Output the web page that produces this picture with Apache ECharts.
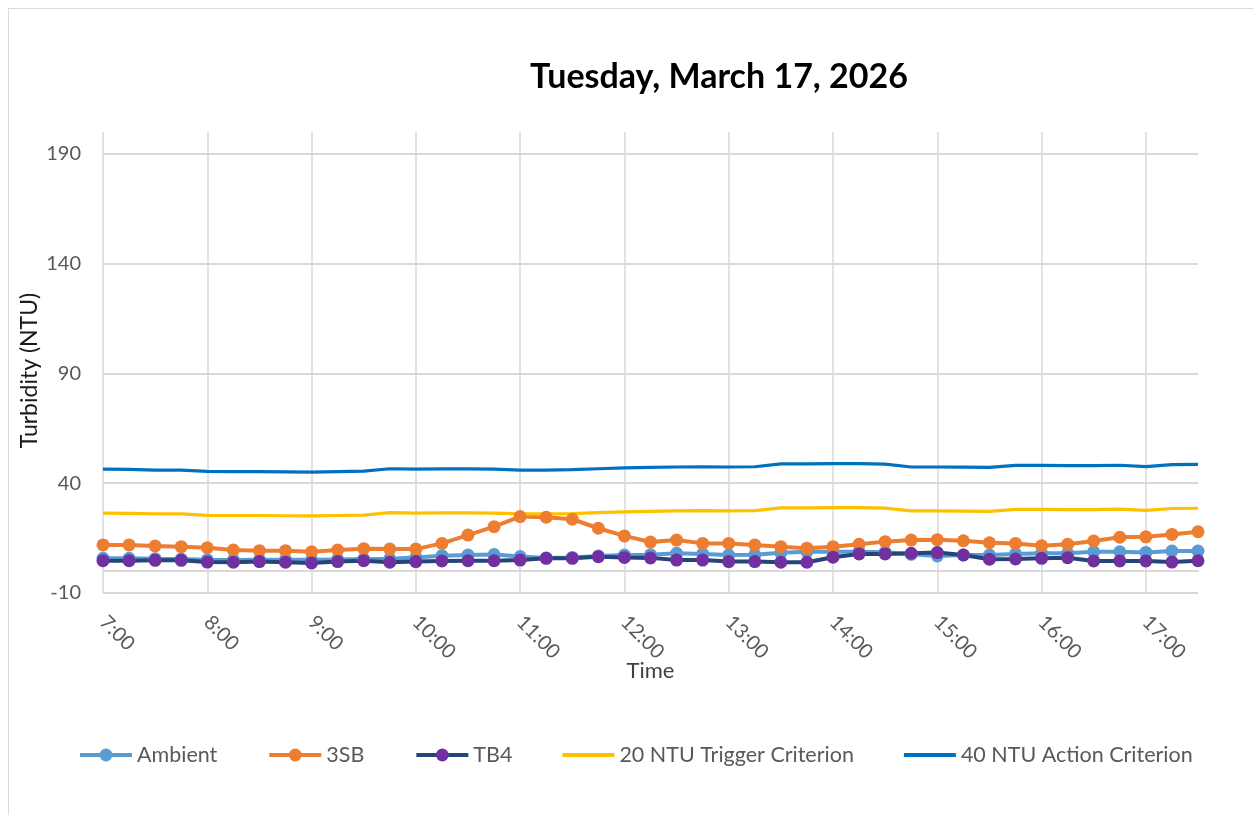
<!DOCTYPE html>
<html>
<head>
<meta charset="utf-8">
<script src="https://cdn.jsdelivr.net/npm/echarts@6/dist/echarts.min.js"></script>
<style>
html,body{margin:0;padding:0;background:#fff;}
#frame{position:absolute;left:8px;top:8px;width:1300px;height:900px;border-left:1px solid #d9d9d9;border-top:1px solid #d9d9d9;}
#chart{position:absolute;left:0;top:0;width:1253px;height:815px;}
</style>
</head>
<body>
<div id="frame"></div>
<div id="chart"></div>
<script>
const times = ['7:00','7:15','7:30','7:45','8:00','8:15','8:30','8:45','9:00','9:15','9:30','9:45',
  '10:00','10:15','10:30','10:45','11:00','11:15','11:30','11:45','12:00','12:15','12:30','12:45',
  '13:00','13:15','13:30','13:45','14:00','14:15','14:30','14:45','15:00','15:15','15:30','15:45',
  '16:00','16:15','16:30','16:45','17:00','17:15','17:30'];

const ambient = [5.8,5.8,5.6,5.5,5.1,5.0,5.1,5.2,5.1,5.3,5.5,5.6,6.2,7.0,7.3,7.5,6.6,6.0,6.2,6.9,7.3,7.4,8.1,7.8,
  7.3,7.4,8.3,8.8,8.8,8.8,8.6,7.6,6.9,7.3,7.3,7.8,8.1,8.1,8.8,8.8,8.5,9.1,9.1];
const sb3 = [11.9,11.9,11.4,11.1,10.6,9.6,9.3,9.3,8.8,9.6,10.2,10.0,10.0,12.6,16.4,20.2,24.8,24.5,23.6,19.5,16.0,13.2,14.1,12.6,
  12.6,11.9,11.1,10.4,11.1,12.2,13.4,14.1,14.3,13.8,12.9,12.6,11.5,12.2,13.7,15.4,15.6,16.7,17.9];
const tb4 = [4.7,4.7,4.9,4.9,4.1,4.0,4.3,4.0,3.7,4.3,4.7,4.0,4.3,4.6,4.7,4.7,5.0,5.8,5.8,6.5,6.2,6.0,5.0,5.0,
  4.3,4.3,4.0,4.0,6.3,7.8,7.8,8.1,8.4,7.3,5.4,5.5,5.8,6.1,4.6,4.6,4.6,4.1,4.7];
const trigger20 = [26.4,26.3,26.0,26.0,25.4,25.3,25.3,25.2,25.1,25.3,25.5,26.6,26.4,26.5,26.5,26.4,26.0,26.0,26.2,26.6,27.0,27.2,27.4,27.5,
  27.4,27.5,28.8,28.8,28.9,28.9,28.7,27.4,27.4,27.3,27.2,28.1,28.1,28.0,28.0,28.2,27.6,28.5,28.6];
const action40 = [46.4,46.3,46.0,46.0,45.4,45.3,45.3,45.2,45.1,45.3,45.5,46.6,46.4,46.5,46.5,46.4,46.0,46.0,46.2,46.6,47.0,47.2,47.4,47.5,
  47.4,47.5,48.8,48.8,48.9,48.9,48.7,47.4,47.4,47.3,47.2,48.1,48.1,48.0,48.0,48.2,47.6,48.5,48.6];

const yTicks = { min: -10, max: 200, interval: 50 };

const FONT = 'Lato, "Open Sans", sans-serif';
const chart = echarts.init(document.getElementById('chart'));

function markerSeries(name, data, lineColor, markColor) {
  return {
    name: name, type: 'line', data: data,
    symbol: 'circle', symbolSize: 13, showSymbol: true,
    lineStyle: { color: lineColor, width: 4 },
    itemStyle: { color: markColor, borderColor: markColor, borderWidth: 0 },
    emphasis: { disabled: true }, animation: false
  };
}
function plainSeries(name, data, color) {
  return {
    name: name, type: 'line', data: data, symbol: 'none',
    lineStyle: { color: color, width: 3.2 },
    itemStyle: { color: color },
    emphasis: { disabled: true }, animation: false
  };
}

const gridLine = '#d9d9d9';
const lineIcon = 'path://M0,0H52V4H0Z';
chart.setOption({
  backgroundColor: 'transparent',
  animation: false,
  title: {
    text: 'Tuesday, March 17, 2026',
    left: 525, top: 55,
    textStyle: { fontFamily: FONT, fontSize: 34, fontWeight: 'bold', color: '#000' }
  },
  grid: { left: 103, right: 55, top: 132, bottom: 222, containLabel: false },
  xAxis: {
    type: 'category', data: times, boundaryGap: false,
    name: 'Time', nameLocation: 'middle', nameGap: 67, nameMoveOverlap: false,
    nameTextStyle: { fontFamily: FONT, fontSize: 22, color: '#404040' },
    axisLine: { show: true, lineStyle: { color: gridLine, width: 2 } },
    axisTick: { show: false },
    axisLabel: { interval: 3, rotate: -45, margin: 26, fontFamily: FONT, fontSize: 20, color: '#595959' },
    splitLine: { show: true, interval: 3, lineStyle: { color: gridLine, width: 1.5 } }
  },
  yAxis: {
    type: 'value', min: yTicks.min, max: yTicks.max, interval: yTicks.interval,
    name: 'Turbidity (NTU)', nameLocation: 'middle', nameGap: 62, nameRotate: 90, nameMoveOverlap: false,
    nameTextStyle: { fontFamily: FONT, fontSize: 23, color: '#1a1a1a', padding: [0, 16, 0, 0] },
    axisLine: { show: false }, axisTick: { show: false },
    axisLabel: {
      margin: 22, fontFamily: FONT, fontSize: 20, color: '#595959',
      formatter: function (v) { return v > 190 ? '' : String(v); }
    },
    splitLine: { show: true, lineStyle: { color: [gridLine, gridLine, gridLine, gridLine, gridLine, 'rgba(0,0,0,0)'], width: 2 } }
  },
  legend: {
    left: 73, top: 739, itemWidth: 52, itemHeight: 16, itemGap: 50,
    symbolKeepAspect: true,
    lineStyle: { width: 4 },
    textStyle: { fontFamily: FONT, fontSize: 21.5, color: '#595959' },
    data: [
      { name: 'Ambient' }, { name: '3SB' }, { name: 'TB4' },
      { name: '20 NTU Trigger Criterion', icon: lineIcon },
      { name: '40 NTU Action Criterion', icon: lineIcon }
    ]
  },
  series: [
    markerSeries('Ambient', ambient, '#5B9BD5', '#5B9BD5'),
    markerSeries('3SB', sb3, '#ED7D31', '#ED7D31'),
    markerSeries('TB4', tb4, '#264478', '#7030A0'),
    plainSeries('20 NTU Trigger Criterion', trigger20, '#FFC000'),
    plainSeries('40 NTU Action Criterion', action40, '#0070C0')
  ]
});
</script>
</body>
</html>
